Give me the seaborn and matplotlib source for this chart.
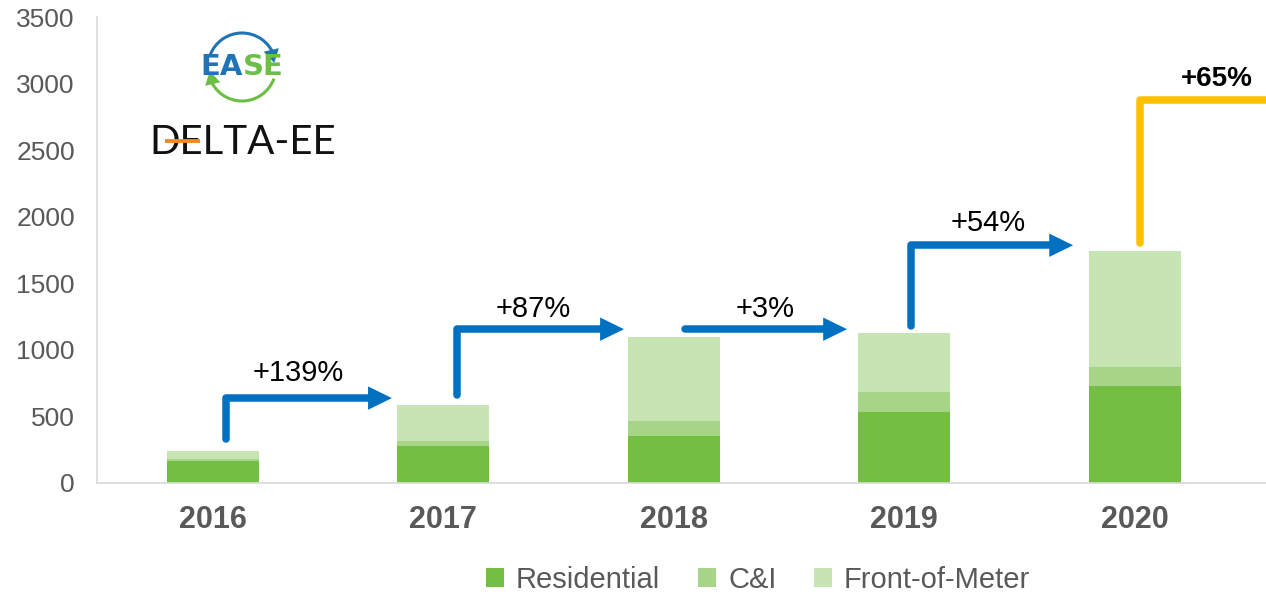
import matplotlib
matplotlib.use("Agg")
import matplotlib.pyplot as plt
from matplotlib.patches import Patch, Arc
import numpy as np
import pandas as pd
import seaborn as sns

# ---- data ----
years = ["2016", "2017", "2018", "2019", "2020"]
residential = [164, 276, 352, 527, 727]
c_and_i = [15, 36, 112, 155, 143]
front_of_meter = [60, 270, 629, 446, 869]

growth_labels = ["+139%", "+87%", "+3%", "+54%", "+65%"]
arrow_vx = [0.059, 1.059, 2.049, 3.030, 4.023]      # x of vertical leg (start)
arrow_y0 = [327, 657, 1153, 1175, 1799]             # bottom of vertical leg
arrow_y1 = [635, 1153, 1153, 1784, 2873]            # level of horizontal leg
arrow_tip = [0.777, 1.784, 2.752, 3.733, 4.75]      # x of arrow tip
label_x = [0.369, 1.389, 2.396, 3.364, 4.358]
label_y = [822, 1303, 1303, 1949, 3031]
arrow_colors = ["#0070C0", "#0070C0", "#0070C0", "#0070C0", "#FFC000"]
has_head = [True, True, True, True, False]
label_bold = [False, False, False, False, True]

c_res = "#74BE43"
c_ci = "#A7D587"
c_fom = "#C7E4B3"

sns.set_theme(style="white")
plt.rcParams["font.family"] = ["Liberation Sans", "DejaVu Sans"]

fig = plt.figure(figsize=(12.66, 5.95), dpi=100)
ax = fig.add_axes([0.0766, 0.189, 1 - 0.0766, 0.9714 - 0.189])

df = pd.DataFrame({"year": years, "res": residential, "ci": c_and_i, "fom": front_of_meter})
df["res_ci"] = df["res"] + df["ci"]
df["total"] = df["res_ci"] + df["fom"]

sns.barplot(data=df, x="year", y="total", color=c_fom, saturation=1, width=0.4, ax=ax, linewidth=0)
sns.barplot(data=df, x="year", y="res_ci", color=c_ci, saturation=1, width=0.4, ax=ax, linewidth=0)
sns.barplot(data=df, x="year", y="res", color=c_res, saturation=1, width=0.4, ax=ax, linewidth=0)

ax.set_xlim(-0.503, 4.57)
ax.set_ylim(0, 3500)
ax.set_yticks(np.arange(0, 3501, 500))
ax.set_xlabel("")
ax.set_ylabel("")
for s in ["top", "right"]:
    ax.spines[s].set_visible(False)
for s in ["left", "bottom"]:
    ax.spines[s].set_color("#D9D9D9")
    ax.spines[s].set_linewidth(1.2)
ax.tick_params(axis="y", length=0, pad=16, labelsize=19, labelcolor="#595959")
ax.tick_params(axis="x", length=0, pad=16, labelsize=22, labelcolor="#595959")
for t in ax.get_xticklabels():
    t.set_fontweight("bold")

# ---- growth arrows ----
lw = 5.4
head_len = 24 / 230.4
for i in range(len(years)):
    col = arrow_colors[i]
    xs, ys = [], []
    if arrow_y0[i] != arrow_y1[i]:
        xs += [arrow_vx[i], arrow_vx[i]]
        ys += [arrow_y0[i], arrow_y1[i]]
    else:
        xs += [arrow_vx[i]]
        ys += [arrow_y1[i]]
    end = arrow_tip[i] - (head_len * 0.85 if has_head[i] else 0)
    xs.append(end)
    ys.append(arrow_y1[i])
    ax.plot(xs, ys, color=col, lw=lw, solid_capstyle="round", solid_joinstyle="round",
            clip_on=True, zorder=5)
    if has_head[i]:
        ax.annotate("", xy=(arrow_tip[i], arrow_y1[i]),
                    xytext=(arrow_tip[i] - head_len, arrow_y1[i]),
                    arrowprops=dict(arrowstyle="-|>,head_length=0.86,head_width=0.42",
                                    mutation_scale=20, color=col, lw=0,
                                    shrinkA=0, shrinkB=0), zorder=6)
    ax.text(label_x[i], label_y[i], growth_labels[i], ha="center", va="center",
            fontsize=21 if not label_bold[i] else 20,
            fontweight="bold" if label_bold[i] else "normal", color="black", zorder=7)

# ---- legend ----
handles = [Patch(facecolor=c_res, edgecolor="none", label="Residential"),
           Patch(facecolor=c_ci, edgecolor="none", label="C&I"),
           Patch(facecolor=c_fom, edgecolor="none", label="Front-of-Meter")]
leg = fig.legend(handles=handles, loc="center", bbox_to_anchor=(0.599, 0.026), ncol=3,
                 frameon=False, fontsize=21, handlelength=0.62, handleheight=0.62,
                 handletextpad=0.4, columnspacing=1.3, borderaxespad=0)
for t in leg.get_texts():
    t.set_color("#595959")

# ---- logos (overlay in pixel coordinates) ----
ov = fig.add_axes([0, 0, 1, 1], zorder=10)
ov.set_xlim(0, 1266)
ov.set_ylim(595, 0)
ov.axis("off")
ov.patch.set_alpha(0)

cx, cy, r = 242, 67, 34
blue = "#1F73B7"
green = "#6DBE45"
ov.add_patch(Arc((cx, cy), 2 * r, 2 * r, theta1=200, theta2=340, color=blue, lw=2.2))
ov.add_patch(Arc((cx, cy), 2 * r, 2 * r, theta1=20, theta2=160, color=green, lw=2.2))
# arrow heads of the circular arrows
ov.annotate("", xy=(cx + r * 0.95, cy - r * 0.12), xytext=(cx + r * 0.88, cy - r * 0.42),
            arrowprops=dict(arrowstyle="-|>,head_length=0.6,head_width=0.35", mutation_scale=16,
                            color=blue, lw=0, shrinkA=0, shrinkB=0))
ov.annotate("", xy=(cx - r * 0.95, cy + r * 0.12), xytext=(cx - r * 0.88, cy + r * 0.42),
            arrowprops=dict(arrowstyle="-|>,head_length=0.6,head_width=0.35", mutation_scale=16,
                            color=green, lw=0, shrinkA=0, shrinkB=0))
ov.text(cx + 1, cy, "EA", ha="right", va="center", fontsize=21, fontweight="bold",
        color=blue, family=["DejaVu Sans"])
ov.text(cx + 1, cy, "SE", ha="left", va="center", fontsize=21, fontweight="bold",
        color=green, family=["DejaVu Sans"])
ov.text(243, 142, "DELTA-EE", ha="center", va="center", fontsize=29, color="#111111",
        family=["Lato", "DejaVu Sans"], fontweight="normal", zorder=3)
ov.plot([165, 200], [141, 141], color="#F08A24", lw=2.8, solid_capstyle="butt", zorder=6)

fig.savefig("out.png", dpi=100)
